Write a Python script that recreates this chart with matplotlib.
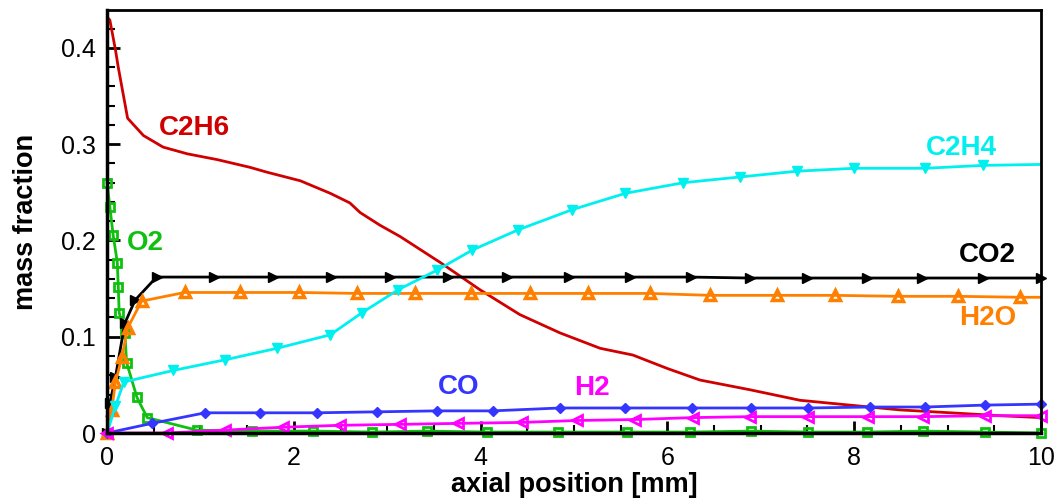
import matplotlib
matplotlib.use("Agg")
import matplotlib.pyplot as plt
from matplotlib.ticker import MultipleLocator

plt.rcParams['font.family'] = ['Liberation Sans', 'DejaVu Sans']

# species profiles along the reactor axis (position in mm, mass fraction)
c2h6_x = [0.0, 0.03, 0.09, 0.12, 0.22, 0.39, 0.6, 0.86, 1.18, 1.53, 1.71, 2.07, 2.39,
          2.6, 2.71, 2.92, 3.14, 3.57, 3.99, 4.42, 4.85, 5.28, 5.63, 6.0, 6.35, 6.88,
          7.42, 7.95, 8.49, 9.03, 9.56, 10.0]
c2h6_y = [0.432, 0.429, 0.398, 0.38, 0.327, 0.309, 0.297, 0.29, 0.284, 0.276, 0.271,
          0.262, 0.249, 0.239, 0.229, 0.216, 0.204, 0.177, 0.149, 0.123, 0.104, 0.088,
          0.081, 0.067, 0.055, 0.045, 0.034, 0.029, 0.024, 0.021, 0.018, 0.016]

o2_x = [0.0, 0.03, 0.065, 0.11, 0.12, 0.13, 0.19, 0.21, 0.32, 0.43, 0.96, 1.55, 2.2,
        2.84, 3.43, 4.07, 4.83, 5.57, 6.24, 6.9, 7.51, 8.14, 8.74, 9.4, 10.0]
o2_y = [0.26, 0.235, 0.206, 0.177, 0.152, 0.125, 0.104, 0.073, 0.037, 0.016, 0.003,
        0.002, 0.002, 0.001, 0.002, 0.001, 0.001, 0.001, 0.001, 0.002, 0.001, 0.001,
        0.002, 0.001, 0.0]

co2_x = [0.0, 0.03, 0.09, 0.19, 0.3, 0.53, 1.14, 1.78, 2.4, 3.03, 3.65, 4.28, 4.95,
         5.6, 6.25, 6.88, 7.49, 8.14, 8.73, 9.38, 10.0]
co2_y = [0.0, 0.031, 0.058, 0.114, 0.138, 0.162, 0.162, 0.162, 0.162, 0.162, 0.162,
         0.162, 0.162, 0.162, 0.162, 0.161, 0.161, 0.161, 0.161, 0.161, 0.161]

h2o_x = [0.0, 0.05, 0.09, 0.16, 0.22, 0.37, 0.83, 1.42, 2.05, 2.68, 3.3, 3.9, 4.53,
         5.15, 5.81, 6.46, 7.17, 7.79, 8.47, 9.11, 9.78, 10.0]
h2o_y = [0.0, 0.024, 0.053, 0.079, 0.109, 0.137, 0.146, 0.146, 0.146, 0.145, 0.145,
         0.145, 0.145, 0.145, 0.145, 0.143, 0.143, 0.143, 0.142, 0.142, 0.141, 0.141]

c2h4_x = [0.0, 0.09, 0.18, 0.71, 1.26, 1.82, 2.39, 2.73, 3.12, 3.53, 3.91, 4.4, 4.98,
          5.55, 6.17, 6.78, 7.39, 8.0, 8.76, 9.38, 10.0]
c2h4_y = [0.0, 0.028, 0.053, 0.065, 0.076, 0.088, 0.102, 0.125, 0.149, 0.169, 0.19,
          0.211, 0.232, 0.249, 0.26, 0.266, 0.272, 0.275, 0.275, 0.278, 0.279]

co_x = [0.0, 0.48, 1.05, 1.64, 2.25, 2.89, 3.53, 4.13, 4.85, 5.55, 6.26, 6.9, 7.51,
        8.17, 8.76, 9.4, 10.0]
co_y = [0.0, 0.010, 0.021, 0.021, 0.021, 0.022, 0.023, 0.023, 0.026, 0.026, 0.026,
        0.026, 0.026, 0.027, 0.027, 0.029, 0.030]

h2_x = [0.0, 0.64, 1.26, 1.88, 2.49, 3.14, 3.76, 4.44, 5.03, 5.65, 6.27, 6.88, 7.51,
        8.15, 8.74, 9.4, 10.0]
h2_y = [0.0, 0.0, 0.003, 0.006, 0.008, 0.009, 0.010, 0.011, 0.013, 0.014, 0.016,
        0.017, 0.017, 0.017, 0.017, 0.018, 0.018]

fig = plt.figure(figsize=(10.62, 5.01), dpi=100)
ax = fig.add_axes([0.1008, 0.1357, 0.8794, 0.8443])

ax.plot(c2h6_x, c2h6_y, color='#d00000', lw=2)
ax.plot(o2_x, o2_y, color='#10c010', lw=2, marker='s', ms=5.5, mfc='none',
        mew=2, clip_on=False)
ax.plot(co2_x, co2_y, color='black', lw=2, marker='>', ms=7, clip_on=False)
ax.plot(h2o_x[:-1], h2o_y[:-1], color='#ff8000', lw=0, marker='^', ms=7,
        mfc='none', mew=2.5, clip_on=False)
ax.plot(h2o_x, h2o_y, color='#ff8000', lw=2)
ax.plot(c2h4_x[:-1], c2h4_y[:-1], color='#00f0f0', lw=0, marker='v', ms=6.5)
ax.plot(c2h4_x, c2h4_y, color='#00f0f0', lw=2)
ax.plot(co_x, co_y, color='#3535ff', lw=2, marker='D', ms=5.5, clip_on=False)
ax.plot(h2_x, h2_y, color='#ff00ff', lw=2, marker='<', ms=7, mfc='none', mew=2,
        clip_on=False)

ax.set_xlim(0, 10)
ax.set_ylim(0, 0.4394)
ax.xaxis.set_minor_locator(MultipleLocator(0.5))
ax.yaxis.set_minor_locator(MultipleLocator(0.02))
ax.set_xticks([0, 2, 4, 6, 8, 10])
ax.set_xticklabels(['0', '2', '4', '6', '8', '10'])
ax.set_yticks([0, 0.1, 0.2, 0.3, 0.4])
ax.set_yticklabels(['0', '0.1', '0.2', '0.3', '0.4'])
ax.tick_params(which='both', direction='in', top=False, right=False,
               labelsize=18, width=2)
ax.tick_params(axis='x', pad=9)
ax.tick_params(axis='y', pad=8)
ax.tick_params(which='major', length=9)
ax.tick_params(which='minor', length=6, width=1.5)
for side in ['left', 'bottom']:
    ax.spines[side].set_linewidth(2.5)
for side in ['top', 'right']:
    ax.spines[side].set_linewidth(2)

ax.set_xlabel('axial position [mm]', fontsize=19.5, fontweight='bold', labelpad=2)
ax.set_ylabel('mass fraction', fontsize=19.5, fontweight='bold', labelpad=16)

lab = dict(fontsize=20, fontweight='bold', ha='center', va='center')
ax.text(0.94, 0.317, 'C2H6', color='#d00000', **lab)
ax.text(0.41, 0.197, 'O2', color='#10c010', **lab)
ax.text(9.15, 0.296, 'C2H4', color='#00f0f0', **lab)
ax.text(9.43, 0.185, 'CO2', color='black', **lab)
ax.text(9.43, 0.119, 'H2O', color='#ff8000', **lab)
ax.text(3.76, 0.048, 'CO', color='#3535ff', **lab)
ax.text(5.19, 0.047, 'H2', color='#ff00ff', **lab)

fig.savefig('out.png', dpi=100)
